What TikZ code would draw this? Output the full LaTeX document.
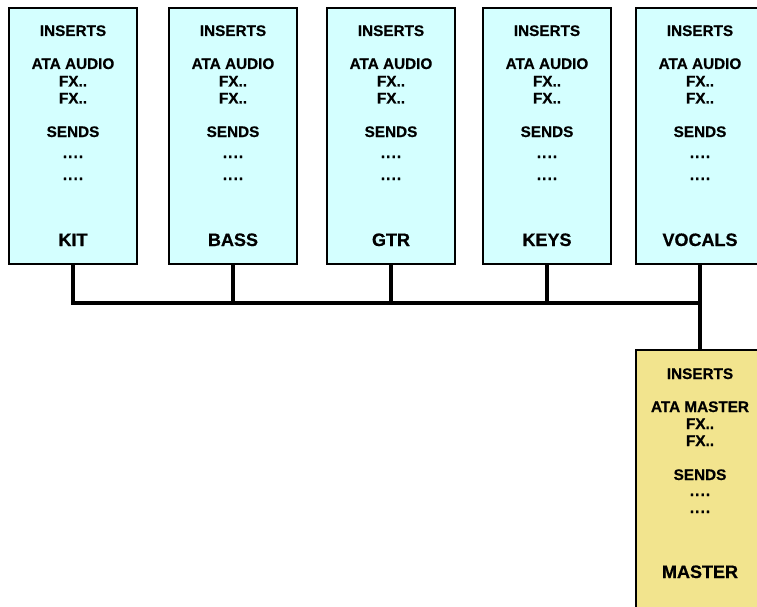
\documentclass[tikz,border=0pt]{standalone}
\usepackage{fontspec}
\setmainfont{Liberation Sans}[BoldFeatures={FakeBold=0.6}]
\definecolor{chfill}{HTML}{D4FFFF}
\definecolor{mafill}{HTML}{F2E48E}
\newcommand{\dotsrow}{.\kern1.1pt.\kern1.1pt.\kern1.1pt.}
\begin{document}
\begin{tikzpicture}[x=1pt,y=-1pt,
  chbox/.style={draw=black, line width=2pt, fill=chfill, minimum width=128pt, minimum height=256pt, inner sep=0pt},
  mabox/.style={draw=black, line width=2pt, fill=mafill, minimum width=128pt, minimum height=300pt, inner sep=0pt, anchor=north},
  small/.style={anchor=base, inner sep=0pt, font=\fontsize{15.3}{17}\selectfont\bfseries},
  big/.style={anchor=base, inner sep=0pt, font=\fontsize{18}{20}\selectfont\bfseries},
  wire/.style={line width=4.5pt, line cap=rect}
]
\useasboundingbox (0,0) rectangle (757,607);
\clip (0,0) rectangle (757,607);
\fill[white] (0,0) rectangle (757,607);

\newcommand{\chan}[3]{%
  \node[chbox] (#1) at (#2,136) {};
  \node[small] (#1-ins) at (#2,36) {INSERTS};
  \node[small] (#1-ata) at (#2,69) {ATA AUDIO};
  \node[small] (#1-fxa) at (#2,86.5) {FX..};
  \node[small] (#1-fxb) at (#2,103.5) {FX..};
  \node[small] (#1-snd) at (#2,137) {SENDS};
  \node[small] (#1-da) at (#2,158) {\dotsrow};
  \node[small] (#1-db) at (#2,180) {\dotsrow};
  \node[big] (#1-lbl) at (#2,246) {#3};
}
\chan{kit}{73}{KIT}
\chan{bass}{233}{BASS}
\chan{gtr}{391}{GTR}
\chan{keys}{547}{KEYS}
\chan{voc}{700}{VOCALS}

\node[mabox] (master) at (700,349) {};
\node[small] (m-ins) at (700,379) {INSERTS};
\node[small] (m-ata) at (700,412) {ATA MASTER};
\node[small] (m-fxa) at (700,429) {FX..};
\node[small] (m-fxb) at (700,446) {FX..};
\node[small] (m-snd) at (700,480) {SENDS};
\node[small] (m-da) at (700,496) {\dotsrow};
\node[small] (m-db) at (700,513) {\dotsrow};
\node[big] (m-lbl) at (700,578) {MASTER};

\coordinate (busy) at (0,303);
\draw[line width=4.5pt] (kit.south) -- (kit.south |- busy);
\draw[line width=4.5pt] (bass.south) -- (bass.south |- busy);
\draw[line width=4.5pt] (gtr.south) -- (gtr.south |- busy);
\draw[line width=4.5pt] (keys.south) -- (keys.south |- busy);
\draw[wire] (kit.south |- busy) -- (voc.south |- busy);
\draw[line width=4.5pt] (voc.south) -- (master.north);
\end{tikzpicture}
\end{document}
